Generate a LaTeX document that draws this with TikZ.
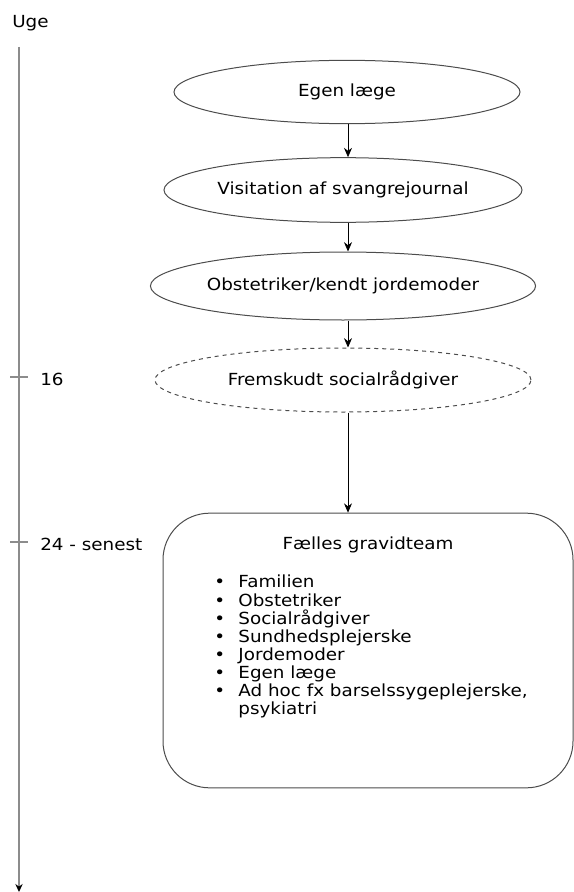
\documentclass[tikz,border=0pt]{standalone}
\usepackage{fontspec}
\setmainfont{DejaVu Sans}[FakeStretch=1.1]
\usetikzlibrary{shapes.geometric, arrows.meta}

\tikzset{
  oval/.style = {draw=black!70, line width=0.75pt, ellipse, inner sep=0pt},
  flow/.style = {-{Stealth[length=7pt, width=6pt]}, black, line width=0.6pt},
  teambox/.style = {draw=black!70, line width=0.75pt, rounded corners=35pt, inner sep=0pt,
                    minimum width=307.5pt, minimum height=206pt},
  tick/.style = {draw=black!45, line width=1.5pt}
}

\begin{document}
\begin{tikzpicture}[x=0.75pt, y=-0.75pt, font=\fontsize{12.5}{13.6}\selectfont]

    \useasboundingbox (0,0) rectangle (574,892);

    % Draw the time axis
    \node[anchor=west, inner sep=0pt] (uge) at (12,23) {Uge};
    \coordinate (top) at (19,47);
    \coordinate (bot) at (19,892);
    \draw[tick, -{Stealth[length=6pt, width=5.5pt, color=black]}] (top) -- (bot);
    \draw[tick] (10,377) -- (28,377);
    \draw[tick] (10,542) -- (28,542);
    \node[anchor=west, inner sep=0pt] (w16) at (40,379) {16};
    \node[anchor=west, inner sep=0pt] (w24) at (40,544) {24 - senest};

    % Draw the ovals
    \node[oval, minimum width=259.5pt, minimum height=47.5pt] (egen) at (347,92) {Egen læge};
    \node[oval, minimum width=268.5pt, minimum height=48.5pt] (visit) at (343,190) {Visitation af svangrejournal};
    \node[oval, minimum width=282pt, minimum height=51pt] (obst) at (343,286) {Obstetriker/kendt jordemoder};
    \node[oval, dashed, minimum width=282pt, minimum height=48pt] (frem) at (343,380) {Fremskudt socialrådgiver};

    % Draw the team box
    \node[teambox] (team) at (368,650.5) {};
    \node (title) at (368,545) {Fælles gravidteam};
    \node[anchor=north west, align=left, inner sep=0pt] (list) at (214,575) {%
      \textbullet\hspace{10pt}Familien\\
      \textbullet\hspace{10pt}Obstetriker\\
      \textbullet\hspace{10pt}Socialrådgiver\\
      \textbullet\hspace{10pt}Sundhedsplejerske\\
      \textbullet\hspace{10pt}Jordemoder\\
      \textbullet\hspace{10pt}Egen læge\\
      \textbullet\hspace{10pt}Ad hoc fx barselssygeplejerske,\\
      \phantom{\textbullet}\hspace{10pt}psykiatri};

    % Draw the arrows
    \draw[flow] (egen.south -| 348,0) -- (visit.north -| 348,0);
    \draw[flow] (visit.south -| 348,0) -- (obst.north -| 348,0);
    \draw[flow] (obst.south -| 348,0) -- (frem.north -| 348,0);
    \draw[flow] (frem.south -| 348,0) -- (team.north -| 348,0);

\end{tikzpicture}
\end{document}
